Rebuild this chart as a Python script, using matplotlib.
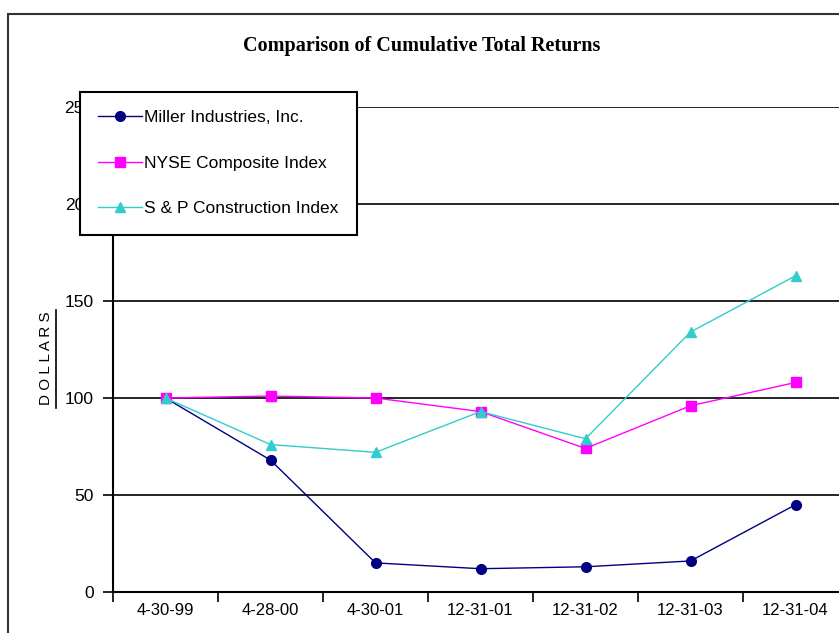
import matplotlib

matplotlib.use("Agg")
import matplotlib.pyplot as plt
from matplotlib.patches import Rectangle

# datos
fechas = ["4-30-99", "4-28-00", "4-30-01", "12-31-01", "12-31-02", "12-31-03", "12-31-04"]
miller = [100, 68, 15, 12, 13, 16, 45]
nyse = [100, 101, 100, 93, 74, 96, 108]
sp_construccion = [100, 76, 72, 93, 79, 134, 163]
y_ticks = [0, 50, 100, 150, 200, 250]

FUENTE = "Liberation Sans"

fig = plt.figure(figsize=(8.39, 6.33), dpi=100)
ax = fig.add_axes([113 / 839, 41 / 633, 735 / 839, 485 / 633])

# marco exterior del gráfico (se sale de la imagen por la derecha y abajo)
fig.patches.append(
    Rectangle((8 / 839, -0.05), 1.0, (633 - 14) / 633 + 0.05,
              transform=fig.transFigure, fill=False, edgecolor="#333333",
              linewidth=1.5, clip_on=False)
)

x = list(range(len(fechas)))
ax.plot(x, miller, "-o", color="#000080", markersize=7, linewidth=1,
        label="Miller Industries, Inc.", zorder=3)
ax.plot(x, nyse, "-s", color="#FF00FF", markersize=7, linewidth=1,
        label="NYSE Composite Index", zorder=3)
ax.plot(x, sp_construccion, "-^", color="#33CCCC", markersize=7.5, linewidth=1,
        label="S & P Construction Index", zorder=3)

ax.set_xlim(-0.5, len(fechas) - 0.5)
ax.set_ylim(0, 250)
ax.set_yticks(y_ticks)
ax.set_yticklabels([str(v) for v in y_ticks], fontfamily=FUENTE, fontsize=12.5)
ax.yaxis.grid(True, color="black", linewidth=1.2)
ax.set_axisbelow(True)

ax.set_xticks(x)
ax.set_xticklabels(fechas, fontfamily=FUENTE, fontsize=12)
ax.set_xticks([i - 0.5 for i in range(len(fechas) + 1)], minor=True)
ax.tick_params(axis="x", which="major", length=0, pad=8)
ax.tick_params(axis="x", which="minor", length=7, width=1.2, direction="out")
ax.tick_params(axis="y", length=7, width=1.2, direction="out", pad=7)

for s in ["top", "right"]:
    ax.spines[s].set_visible(False)
for s in ["left", "bottom"]:
    ax.spines[s].set_linewidth(1.5)

# etiqueta del eje y, subrayada
fig.text(46 / 839, 1 - 358 / 633, "D O L L A R S", rotation=90, ha="center", va="center",
         fontfamily=FUENTE, fontsize=11)
fig.add_artist(plt.Line2D([56 / 839, 56 / 839], [1 - 408 / 633, 1 - 310 / 633],
                          color="black", linewidth=1.2, transform=fig.transFigure))

fig.text(422 / 839, 1 - 46 / 633, "Comparison of Cumulative Total Returns",
         ha="center", va="center", fontfamily="Liberation Serif",
         fontweight="bold", fontsize=14.5)

leg = ax.legend(loc="upper left", bbox_to_anchor=(80 / 839, 1 - 92 / 633),
                bbox_transform=fig.transFigure, frameon=True, fancybox=False,
                edgecolor="black", framealpha=1, labelspacing=1.75,
                prop={"family": FUENTE, "size": 12.5},
                handlelength=2.5, handletextpad=0.15, borderpad=1.05,
                borderaxespad=0)
leg.get_frame().set_linewidth(1.5)

fig.savefig("out.png", dpi=100)
